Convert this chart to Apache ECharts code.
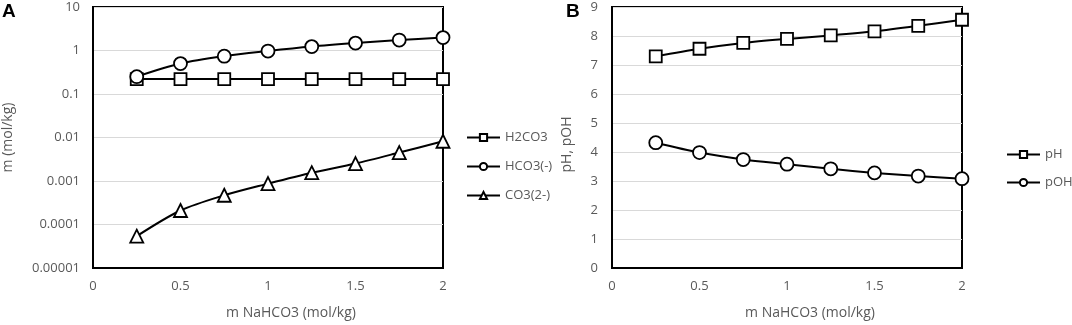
<!DOCTYPE html>
<html>
<head>
<meta charset="utf-8">
<script src="https://cdn.jsdelivr.net/npm/echarts@6/dist/echarts.min.js"></script>
<style>
  html, body { margin: 0; padding: 0; background: #fff; }
  #chart { width: 1072px; height: 325px; }
</style>
</head>
<body>
<div id="chart"></div>
<script>
  // x values (m NaHCO3)
  const xVals = [0.25, 0.5, 0.75, 1.0, 1.25, 1.5, 1.75, 2.0];

  // panel A (log scale)
  const h2co3 = [0.22, 0.22, 0.22, 0.22, 0.22, 0.22, 0.22, 0.22];
  const hco3 = [0.25, 0.5, 0.74, 0.97, 1.23, 1.48, 1.74, 1.98];
  const co3 = [0.000054, 0.00021, 0.00047, 0.00087, 0.00155, 0.00252, 0.0045, 0.0082];
  const logTicks = ['0.00001', '0.0001', '0.001', '0.01', '0.1', '1', '10'];

  // panel B
  const pH = [7.30, 7.56, 7.76, 7.90, 8.02, 8.16, 8.35, 8.56];
  const pOH = [4.32, 3.98, 3.74, 3.58, 3.42, 3.28, 3.17, 3.08];

  const pair = (ys) => xVals.map((x, i) => [x, ys[i]]);

  const txt = '#595959';
  const font = 'Open Sans';

  function mkSeries(name, data, symbol, size, ax) {
    return {
      name: name,
      type: 'line',
      smooth: 0.3,
      xAxisIndex: ax,
      yAxisIndex: ax,
      symbol: symbol,
      symbolSize: size,
      showAllSymbol: true,
      lineStyle: { color: '#000', width: 2 },
      itemStyle: { color: '#fff', borderColor: '#000', borderWidth: 1.8 },
      data: data
    }
  }

  function xAxisOpt(gi) {
    return {
      type: 'value',
      gridIndex: gi,
      min: 0,
      max: 2,
      interval: 0.5,
      name: 'm NaHCO3 (mol/kg)',
      nameLocation: 'middle',
      nameGap: 38,
      // excel centres the title a bit to the right of the plot
      nameTextStyle: { color: txt, fontSize: 14, fontFamily: font, padding: [0, 0, 0, 46] },
      axisLine: { lineStyle: { color: '#000', width: 2 } },
      axisTick: { show: false },
      splitLine: { show: false },
      axisLabel: { color: txt, fontSize: 13, fontFamily: font, margin: 12 }
    }
  }

  function legendOpt(names, left, top, gap) {
    return {
      data: names,
      orient: 'vertical',
      left: left,
      top: top,
      padding: 0,
      itemWidth: 33,
      itemHeight: 9,
      itemGap: gap,
      textStyle: { color: txt, fontSize: 13, fontFamily: font }
    }
  }

  const myChart = echarts.init(document.getElementById('chart'));
  myChart.setOption({
    animation: false,
    grid: [
      { left: 93, top: 7, width: 350, height: 264, show: true, borderColor: '#000', borderWidth: 2 },
      { left: 612, top: 7, width: 350, height: 264, show: true, borderColor: '#000', borderWidth: 2 }
    ],
    xAxis: [xAxisOpt(0), xAxisOpt(1)],
    yAxis: [
      {
        type: 'log',
        gridIndex: 0,
        logBase: 10,
        min: 0.00001,
        max: 10,
        name: 'm (mol/kg)',
        nameLocation: 'middle',
        nameGap: 78,
        nameTextStyle: { color: txt, fontSize: 14, fontFamily: font },
        axisLine: { show: true, lineStyle: { color: '#000', width: 2 } },
        axisTick: { show: false },
        splitLine: { lineStyle: { color: '#d9d9d9', width: 1 } },
        axisLabel: {
          color: txt, fontSize: 13, fontFamily: font, margin: 13,
          formatter: (v) => logTicks[Math.round(Math.log10(v)) + 5]
        }
      },
      {
        type: 'value',
        gridIndex: 1,
        min: 0,
        max: 9,
        interval: 1,
        name: 'pH, pOH',
        nameLocation: 'middle',
        nameGap: 38,
        nameTextStyle: { color: txt, fontSize: 14, fontFamily: font, padding: [0, 14, 0, 0] },
        axisLine: { show: true, lineStyle: { color: '#000', width: 2 } },
        axisTick: { show: false },
        splitLine: { lineStyle: { color: '#d9d9d9', width: 1 } },
        axisLabel: { color: txt, fontSize: 13, fontFamily: font, margin: 14 }
      }
    ],
    legend: [
      legendOpt(['H2CO3', 'HCO3(-)', 'CO3(2-)'], 466, 131, 16),
      legendOpt(['pH', 'pOH'], 1006, 148, 15)
    ],
    graphic: [
      { type: 'text', left: 2, top: 2, style: { text: 'A', font: 'bold 19px "Liberation Sans"', fill: '#000' } },
      { type: 'text', left: 566, top: 2, style: { text: 'B', font: 'bold 19px "Liberation Sans"', fill: '#000' } }
    ],
    series: [
      mkSeries('H2CO3', pair(h2co3), 'rect', 12, 0),
      mkSeries('HCO3(-)', pair(hco3), 'circle', 13, 0),
      mkSeries('CO3(2-)', pair(co3), 'triangle', 13, 0),
      mkSeries('pH', pair(pH), 'rect', 12, 1),
      mkSeries('pOH', pair(pOH), 'circle', 13, 1)
    ]
  });

  window.addEventListener('resize', () => {
    myChart && myChart.resize();
  })
</script>
</body>
</html>
